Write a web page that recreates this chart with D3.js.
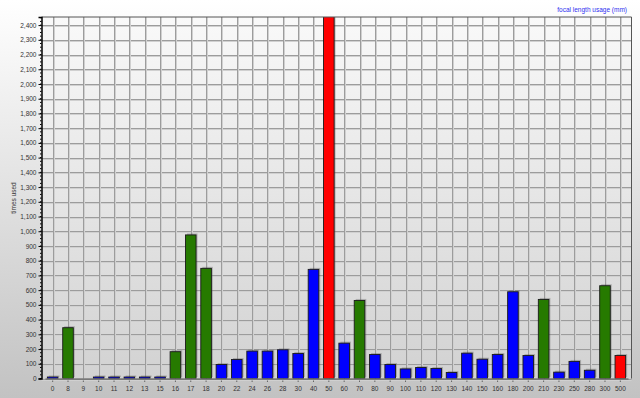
<!DOCTYPE html>
<html><head><meta charset="utf-8">
<script src="https://cdn.jsdelivr.net/npm/d3@7"></script>
<style>html,body{margin:0;padding:0;background:#fff;}svg{display:block;}</style>
</head><body>
<svg id="c" width="640" height="398"></svg>
<script>
const categories = ["0","8","9","10","11","12","13","15","16","17","18","20","22","24","26","28","30","40","50","60","70","80","90","100","110","120","130","140","150","160","180","200","210","230","250","280","300","500"];
const values = [10,345,0,10,10,10,10,10,182,975,748,95,129,186,186,195,170,741,2900,240,530,163,95,65,75,68,41,172,131,163,589,156,537,43,116,56,630,156];
const groups = ["b","g","b","b","b","b","b","b","g","g","g","b","b","b","b","b","b","b","r","b","g","b","b","b","b","b","b","b","b","b","b","b","g","b","b","b","g","r"];
const yTicks = d3.range(0, 2401, 100);
const colorOf = {b:"#0000ff", g:"#267a00", r:"#ff0000"};

const svg = d3.select("#c");
const W = 640, H = 398;
const L = 41.5, R = 631.5, T = 17, B = 378.5;
const defs = svg.append("defs");
const bg = defs.append("linearGradient").attr("id","bg").attr("x1",0).attr("y1",0).attr("x2",0).attr("y2",1);
bg.append("stop").attr("offset","0%").attr("stop-color","#ffffff");
bg.append("stop").attr("offset","100%").attr("stop-color","#c2c2c2");
const pg = defs.append("linearGradient").attr("id","pg").attr("x1",0).attr("y1",0).attr("x2",0).attr("y2",1);
pg.append("stop").attr("offset","0%").attr("stop-color","#f9f9f9");
pg.append("stop").attr("offset","100%").attr("stop-color","#d2d2d2");
defs.append("clipPath").attr("id","clip").append("rect").attr("x",L).attr("y",T).attr("width",R-L).attr("height",B-T);

svg.append("rect").attr("width",W).attr("height",H).attr("fill","url(#bg)");
svg.append("rect").attr("x",L).attr("y",T).attr("width",R-L).attr("height",B-T).attr("fill","url(#pg)");

const x = d3.scaleBand().domain(categories).range([45, 628]).paddingInner(0.31).paddingOuter(0.155);
const y = d3.scaleLinear().domain([0, 2455]).range([B, T]);

// grid
const grid = svg.append("g");
yTicks.forEach(t => {
  const yy = Math.round(y(t)) + 0.5;
  grid.append("line").attr("x1",L).attr("x2",R).attr("y1",yy+1).attr("y2",yy+1).attr("stroke","#d0d0d0");
  grid.append("line").attr("x1",L).attr("x2",R).attr("y1",yy).attr("y2",yy).attr("stroke","#9c9c9c");
});
categories.forEach(c => {
  const xx = Math.round(x(c) + x.bandwidth()/2) + 0.5;
  grid.append("line").attr("x1",xx+1).attr("x2",xx+1).attr("y1",T).attr("y2",B).attr("stroke","#d0d0d0");
  grid.append("line").attr("x1",xx).attr("x2",xx).attr("y1",T).attr("y2",B).attr("stroke","#9c9c9c");
});

// bars
const bars = svg.append("g").attr("clip-path","url(#clip)");
const data = categories.map((c,i)=>({c, v:values[i], g:groups[i]})).filter(d=>d.v>0);
bars.selectAll("rect.sh").data(data).join("rect").attr("class","sh")
  .attr("x", d=>x(d.c)+1.5).attr("y", d=>y(d.v)-1.5)
  .attr("width", x.bandwidth()).attr("height", d=>B-y(d.v))
  .attr("fill","rgba(90,90,90,0.35)");
bars.selectAll("rect.bar").data(data).join("rect").attr("class","bar")
  .attr("x", d=>x(d.c)).attr("y", d=>y(d.v))
  .attr("width", x.bandwidth()).attr("height", d=>B-y(d.v))
  .attr("fill", d=>colorOf[d.g]).attr("stroke","#1a1a1a").attr("stroke-width",0.9);

// plot frame top/right
svg.append("line").attr("x1",L).attr("x2",R).attr("y1",T).attr("y2",T).attr("stroke","#555");
svg.append("line").attr("x1",R).attr("x2",R).attr("y1",T).attr("y2",B).attr("stroke","#555");

// axes
const font = "Arial, 'Liberation Sans', sans-serif";
const yAxis = svg.append("g").attr("transform",`translate(${L},0)`)
  .call(d3.axisLeft(y).tickValues(yTicks).tickFormat(d3.format(",")).tickSize(3).tickPadding(2));
yAxis.select(".domain").attr("stroke","#000").attr("stroke-width",1.5);
yAxis.selectAll(".tick line").attr("stroke","#000");
yAxis.selectAll("text").attr("font-family",font).attr("font-size","6.5px").attr("fill","#333");
// minor ticks on left axis
svg.append("g").selectAll("line").data(d3.range(0, 2451, 25)).join("line")
  .attr("x1",L-1.5).attr("x2",L).attr("y1",d=>y(d)).attr("y2",d=>y(d)).attr("stroke","#000");

const xAxis = svg.append("g").attr("transform",`translate(0,${B})`)
  .call(d3.axisBottom(x).tickSize(0).tickPadding(8));
xAxis.select(".domain").attr("stroke","#555").attr("stroke-width",1);
xAxis.selectAll("text").attr("font-family",font).attr("font-size","6.5px").attr("fill","#333");
svg.append("g").selectAll("line").data(categories).join("line")
  .attr("x1",d=>x(d)+x.bandwidth()/2).attr("x2",d=>x(d)+x.bandwidth()/2)
  .attr("y1",B+2).attr("y2",B+3.5).attr("stroke","#666");

svg.append("text").attr("x",627).attr("y",12).attr("text-anchor","end")
  .attr("font-family",font).attr("font-size","6.5px").attr("fill","#3030f0").text("focal length usage (mm)");
svg.append("text").attr("transform","translate(16,198) rotate(-90)").attr("text-anchor","middle")
  .attr("font-family",font).attr("font-size","6.5px").attr("fill","#333").text("times used");
</script>
</body></html>
